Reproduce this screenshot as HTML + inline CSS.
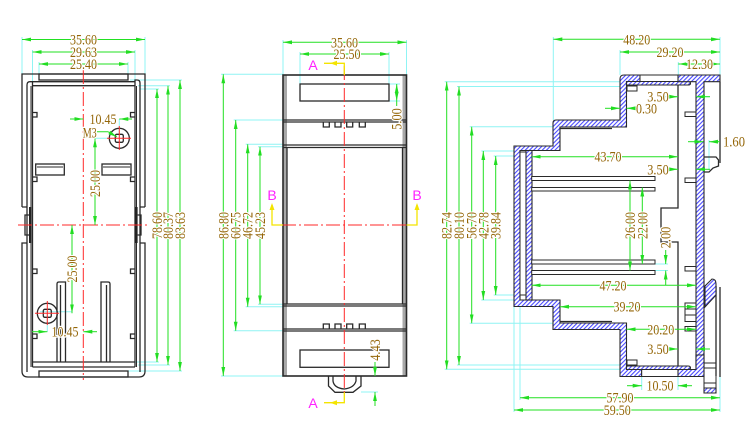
<!DOCTYPE html>
<html><head><meta charset="utf-8"><style>
html,body{margin:0;padding:0;background:#fff;}
svg{display:block;}
.o{stroke:#2a2a2a;stroke-width:1.3;fill:none;}
.ot{stroke:#2a2a2a;stroke-width:1;fill:none;}
.hf{fill:url(#h);stroke:#2a2a2a;stroke-width:1.1;}
.wf{fill:#fff;stroke:#2a2a2a;stroke-width:1;}
.e{stroke:#8ff4f4;stroke-width:1;fill:none;}
.d2{stroke:#22e022;stroke-width:1;fill:none;marker-start:url(#ar);marker-end:url(#ar);}
.d1{stroke:#22e022;stroke-width:1;fill:none;marker-end:url(#ar);}
.d0{stroke:#22e022;stroke-width:1;fill:none;}
.c{stroke:#ff2a2a;stroke-width:1;fill:none;stroke-dasharray:14 3 2 3;}
.y{stroke:#f4e400;stroke-width:1.3;fill:none;}
text{font-family:"Liberation Serif",serif;font-size:15px;fill:#946608;stroke:#fff;stroke-width:2.5;paint-order:stroke;text-anchor:middle;}
text.m{font-family:"Liberation Sans",sans-serif;font-size:14px;fill:#ff22ff;stroke:none;}
</style></head><body>
<svg width="750" height="429" viewBox="0 0 750 429" xmlns="http://www.w3.org/2000/svg">
<defs>
<marker id="ar" markerUnits="userSpaceOnUse" markerWidth="9" markerHeight="5" viewBox="0 0 9 5" refX="9" refY="2.5" orient="auto-start-reverse"><path d="M0,0.6 L9,2.5 L0,4.4Z" fill="#22dd22"/></marker>
<pattern id="h" width="3" height="3" patternUnits="userSpaceOnUse" patternTransform="rotate(45)"><rect width="3" height="3" fill="#fff"/><line x1="0.6" y1="0" x2="0.6" y2="3" stroke="#3636ff" stroke-width="1"/></pattern>
</defs>

<!-- ================= LEFT VIEW ================= -->
<g class="e">
<path d="M22,37V74M145,37V74M32.5,50V82M135,50V82M39,62V74M128,62V74"/>
<path d="M130,80H182M138,85.7H170M140,89H159M135,362H159M138,365H170M128,371H182"/>
<path d="M119.3,119V138M95,138.3H110M72,311.7H40M47.3,313V332M83.3,225H95"/>
</g>
<g class="o">
<path d="M22,207V74H145V207"/>
<path d="M22,207H27M145,207H140"/>
<path d="M27,243H22V371Q22,377 28,377H139Q145,377 145,371V243H140"/>
<path d="M27,372V85Q27,81.7 30,81.7H32.5V367"/>
<path d="M140,372V83Q140,80 137,80H135V367"/>
<path d="M31,86V367M136.5,86V367" class="ot"/>
<rect x="39" y="74" width="89" height="6"/>
<path d="M32.5,81.7H135M32.5,85.7H135"/>
<path d="M32.5,362H135M32.5,367H135"/>
<rect x="39" y="371" width="89" height="6"/>
<rect x="35.7" y="164" width="28.6" height="11"/>
<rect x="102" y="164" width="29" height="11"/>
<path d="M37,167H63M103,167H130" class="ot"/>
<path d="M32.5,112.5H37V117H32.5M135,112.5H130.5V117H135"/>
<path d="M32.5,177H37V181.5H32.5M135,177H130.5V181.5H135"/>
<path d="M32.5,269H37V273.5H32.5M135,269H130.5V273.5H135"/>
<path d="M32.5,334H37V338.5H32.5M135,334H130.5V338.5H135"/>
<path d="M57,362V284Q57,282 59,282H65.5V362M60.5,285V362"/>
<path d="M101,362V282H108Q110,282 110,284V362M106.5,285V362"/>
<circle cx="119.3" cy="138.3" r="10"/>
<rect x="115.3" y="134.3" width="8" height="8" rx="1.5"/>
<circle cx="47.3" cy="313.3" r="10"/>
<rect x="43.3" y="309.3" width="8" height="8" rx="1.5"/>
</g>
<rect x="29" y="207" width="2.6" height="36" fill="#222"/>
<rect x="135" y="207" width="2.6" height="36" fill="#222"/>
<path d="M29,215H25V235H29M137.6,215H141V235H137.6" class="o"/>
<g class="c">
<path d="M83.3,70V380"/>
<path d="M18,225H150"/>
</g>
<path d="M107,138.3H131M119.3,126V150M35,313.3H59M47.3,301V325" stroke="#ff2a2a" stroke-width="1"/>
<g>
<line class="d2" x1="22" y1="39.5" x2="145" y2="39.5"/>
<line class="d2" x1="32.5" y1="52" x2="135" y2="52"/>
<line class="d2" x1="39" y1="64" x2="128" y2="64"/>
<line class="d1" x1="70" y1="119" x2="83.3" y2="119"/>
<line class="d1" x1="132" y1="119" x2="119.3" y2="119"/>
<polyline class="d1" points="97,131.7 108,131.7 117,137"/>
<line class="d2" x1="95" y1="138.3" x2="95" y2="225"/>
<line class="d2" x1="72" y1="225" x2="72" y2="313.3"/>
<line class="d1" x1="32" y1="331.7" x2="47.3" y2="331.7"/>
<line class="d1" x1="97" y1="331.7" x2="83.3" y2="331.7"/>
<line class="d2" x1="157" y1="89" x2="157" y2="362"/>
<line class="d2" x1="168" y1="85.7" x2="168" y2="365"/>
<line class="d2" x1="180" y1="80" x2="180" y2="371"/>
</g>
<text x="83.5" y="44.5" textLength="27" lengthAdjust="spacingAndGlyphs">35.60</text>
<text x="83.5" y="57" textLength="27" lengthAdjust="spacingAndGlyphs">29.63</text>
<text x="83.5" y="69" textLength="27" lengthAdjust="spacingAndGlyphs">25.40</text>
<text x="103" y="124" textLength="27" lengthAdjust="spacingAndGlyphs">10.45</text>
<text x="89.7" y="137.5" textLength="14" lengthAdjust="spacingAndGlyphs">M3</text>
<text x="65" y="336.7" textLength="27" lengthAdjust="spacingAndGlyphs">10.45</text>
<text transform="translate(100,183.5) rotate(-90)" textLength="27" lengthAdjust="spacingAndGlyphs">25.00</text>
<text transform="translate(77,269) rotate(-90)" textLength="27" lengthAdjust="spacingAndGlyphs">25.00</text>
<text transform="translate(162,225.5) rotate(-90)" textLength="27" lengthAdjust="spacingAndGlyphs">78.60</text>
<text transform="translate(173,225.5) rotate(-90)" textLength="27" lengthAdjust="spacingAndGlyphs">80.37</text>
<text transform="translate(185,225.5) rotate(-90)" textLength="27" lengthAdjust="spacingAndGlyphs">83.63</text>

<!-- ================= MIDDLE VIEW ================= -->
<g class="e">
<path d="M283,40V75M406.5,40V75M300,52V84M389,52V84"/>
<path d="M221,74.3H283M233.7,120H283M245.7,144.3H283M258,146.7H287"/>
<path d="M221,376H283M233.7,330.7H283M245.7,306.7H283M258,304.3H287"/>
<path d="M389,84H400M389,101H400M361,392H378"/>
</g>
<rect x="283" y="75" width="4" height="301" fill="#a8a8a8"/>
<rect x="402.5" y="75" width="4" height="301" fill="#a8a8a8"/>
<g class="o">
<rect x="283" y="75" width="123.5" height="301" stroke-width="1.6"/>
<path d="M283,120H406.5M283,122H406.5M283,145H406.5M283,147.5H406.5"/>
<path d="M283,304H406.5M283,306H406.5M283,329H406.5M283,331H406.5"/>
<path d="M287,147.5V304M402.5,147.5V304"/>
<path d="M323.3,122V127H329.3V122M335,122V127H341V122M346.7,122V127H352.7V122M359.3,122V127H365.3V122"/>
<path d="M323.3,329V324H329.3V329M335,329V324H341V329M346.7,329V324H352.7V329M359.3,329V324H365.3V329"/>
<rect x="300" y="84" width="89" height="17"/>
<rect x="300" y="350" width="89" height="17.3"/>
<path d="M328.5,376V386L335,392.3H353L361,386V376"/>
<path d="M333,376V381Q334,388 344.3,389Q354,388 356,381V376"/>
</g>
<g class="c"><path d="M344.3,66V396"/><path d="M282,225H407"/></g>
<g class="y">
<path d="M324,63.3H344.3V75"/>
<path d="M324,402.7H344.3V392.3"/>
<path d="M272,205V225H283M417,205V225H406.5"/>
</g>
<path d="M330,63.3L337,60.8V65.8Z M330,402.7L337,400.2V405.2Z M272,203L269.5,210H274.5Z M417,203L414.5,210H419.5Z" fill="#f4e400"/>
<text class="m" x="313" y="70">A</text>
<text class="m" x="313" y="408">A</text>
<text class="m" x="272" y="200">B</text>
<text class="m" x="417" y="200">B</text>
<g>
<line class="d2" x1="283" y1="42.3" x2="406.5" y2="42.3"/>
<line class="d2" x1="300" y1="54" x2="389" y2="54"/>
<line class="d2" x1="223.3" y1="74.3" x2="223.3" y2="376"/>
<line class="d2" x1="235.7" y1="120" x2="235.7" y2="330.7"/>
<line class="d2" x1="247.7" y1="144.3" x2="247.7" y2="306.7"/>
<line class="d2" x1="260" y1="146.7" x2="260" y2="304.3"/>
<line class="d2" x1="396.7" y1="84" x2="396.7" y2="101"/>
<line class="d0" x1="396.7" y1="101" x2="396.7" y2="106"/>
<line class="d1" x1="375" y1="362" x2="375" y2="376"/>
<line class="d1" x1="375" y1="406" x2="375" y2="392"/>
</g>
<text x="344.5" y="47.3" textLength="27" lengthAdjust="spacingAndGlyphs">35.60</text>
<text x="347" y="59" textLength="27" lengthAdjust="spacingAndGlyphs">25.50</text>
<text transform="translate(228.3,225.5) rotate(-90)" textLength="27" lengthAdjust="spacingAndGlyphs">86.80</text>
<text transform="translate(240.7,225.5) rotate(-90)" textLength="27" lengthAdjust="spacingAndGlyphs">60.75</text>
<text transform="translate(252.7,225.5) rotate(-90)" textLength="27" lengthAdjust="spacingAndGlyphs">46.72</text>
<text transform="translate(265,225.5) rotate(-90)" textLength="27" lengthAdjust="spacingAndGlyphs">45.23</text>
<text transform="translate(401.7,119) rotate(-90)" textLength="21.5" lengthAdjust="spacingAndGlyphs">5.00</text>
<text transform="translate(380,350) rotate(-90)" textLength="21.5" lengthAdjust="spacingAndGlyphs">4.43</text>

<!-- ================= RIGHT VIEW ================= -->
<g class="e">
<path d="M553.3,37V120M620,50V75M678.3,62V75M720,37V75"/>
<path d="M444.7,81.7H620M457,86.5H622M469.7,126.7H553M481.3,151H515M493.7,156H515"/>
<path d="M444.7,369.3H620M457,365H620M469.7,323.3H555M481.3,300H514M493.7,295H514"/>
<path d="M514,306.5V412M520,300V400M720,376V412M641.7,376.5V390M678,376.5V390"/>
<path d="M655,264H668M655,270.5H668M709,140V170M696,96.7H710M678,96.7H665"/>
</g>
<!-- shell stepped profile -->
<path class="hf" d="M514,146V306.5H553V329.5H620V376.5H641.7V369.5H626.5V323H560V300H520V150.5H560V127H626.5V81.5H640V75H624Q620,75 620,79V120H556Q553,120 553,123V146Z"/>
<rect class="wf" x="520" y="152" width="6" height="143"/>
<rect class="hf" x="526" y="150.5" width="6" height="149.5"/>
<rect class="wf" x="640" y="75" width="38" height="6.5"/>
<path class="hf" d="M626.5,81.5H688Q690.5,81.5 690.5,83.2Q690.5,85 688,85H626.5Z"/>
<rect class="wf" x="641.7" y="369.5" width="36.3" height="7"/>
<path class="hf" d="M626.5,366H688Q690.5,366 690.5,367.8Q690.5,369.5 688,369.5H626.5Z"/>
<path class="hf" d="M678,75H720V81.7H704V366H696V81.7H678Z"/>
<path class="hf" d="M678,376.5V369.5H696V355H704V376.5Z"/>
<g class="o">
<path d="M720,81.7V163"/>
<path d="M704,157H716L718.5,160V166L713,168L709,172H704"/>
<path d="M678,85V208H661V242H678V366"/>
<path d="M560,128.5H612M560,321.5H612"/>
<rect x="627" y="86" width="10" height="5" class="ot"/>
<rect x="627" y="360" width="10" height="5" class="ot"/>
<rect x="531.7" y="176.5" width="123.3" height="4" class="wf"/>
<rect x="531.7" y="187.5" width="123.3" height="3.5" class="wf"/>
<rect x="531.7" y="260" width="123.3" height="4" class="wf"/>
<rect x="531.7" y="270.5" width="123.3" height="4" class="wf"/>
<path d="M696,112H685V116.5H696M696,178H685V182.5H696M696,266.5H685V271H696M696,326.5H685V331H696" class="ot"/>
<path d="M696,303H685V321.5H696M685,309H696M685,315H696" class="ot"/>
<path d="M716,286V376M720,287V377"/>
<path d="M704,363H716V393H704Z" class="ot"/>
<path d="M704,368H716M704,383H716M704,388H716" class="ot"/>
</g>
<path class="hf" d="M712,279Q716,279 716,284V295L705,307V286Z"/>
<path class="hf" d="M704,388H716V393H704Z"/>
<g>
<line class="d2" x1="553.3" y1="39.3" x2="720" y2="39.3"/>
<line class="d2" x1="620" y1="52" x2="720" y2="52"/>
<line class="d2" x1="678.3" y1="64" x2="720" y2="64"/>
<line class="d1" x1="668" y1="96.7" x2="678" y2="96.7"/>
<line class="d1" x1="710" y1="96.7" x2="696" y2="96.7"/>
<line class="d1" x1="605" y1="108.3" x2="620" y2="108.3"/>
<line class="d1" x1="635" y1="108.3" x2="626.5" y2="108.3"/>
<line class="d1" x1="688" y1="141.7" x2="703.5" y2="141.7"/>
<line class="d1" x1="720" y1="141.7" x2="709" y2="141.7"/>
<line class="d2" x1="531.7" y1="156.7" x2="678" y2="156.7"/>
<line class="d1" x1="668" y1="169.3" x2="678" y2="169.3"/>
<line class="d1" x1="710" y1="169.3" x2="696" y2="169.3"/>
<line class="d2" x1="630" y1="180.5" x2="630" y2="270.5"/>
<line class="d2" x1="642.3" y1="187.5" x2="642.3" y2="264"/>
<line class="d1" x1="665.7" y1="250" x2="665.7" y2="264"/>
<line class="d1" x1="665.7" y1="285" x2="665.7" y2="270.5"/>
<line class="d2" x1="531.7" y1="285.3" x2="696" y2="285.3"/>
<line class="d2" x1="560" y1="306.7" x2="696" y2="306.7"/>
<line class="d2" x1="626.5" y1="329.3" x2="696" y2="329.3"/>
<line class="d1" x1="668" y1="349" x2="678" y2="349"/>
<line class="d1" x1="710" y1="349" x2="696" y2="349"/>
<line class="d1" x1="627" y1="385.7" x2="641.7" y2="385.7"/>
<line class="d1" x1="692" y1="385.7" x2="678" y2="385.7"/>
<line class="d2" x1="520" y1="397.7" x2="720" y2="397.7"/>
<line class="d2" x1="514" y1="410" x2="720" y2="410"/>
<line class="d2" x1="446.7" y1="81.7" x2="446.7" y2="369.3"/>
<line class="d2" x1="459" y1="86.5" x2="459" y2="365"/>
<line class="d2" x1="471.7" y1="126.7" x2="471.7" y2="323.3"/>
<line class="d2" x1="483.3" y1="151" x2="483.3" y2="300"/>
<line class="d2" x1="495.7" y1="156" x2="495.7" y2="295"/>
</g>
<text x="636.7" y="44.3" textLength="27" lengthAdjust="spacingAndGlyphs">48.20</text>
<text x="670" y="57" textLength="27" lengthAdjust="spacingAndGlyphs">29.20</text>
<text x="699.5" y="69" textLength="27" lengthAdjust="spacingAndGlyphs">12.30</text>
<text x="658" y="101.7" textLength="21.5" lengthAdjust="spacingAndGlyphs">3.50</text>
<text x="646.5" y="113.3" textLength="21" lengthAdjust="spacingAndGlyphs">0.30</text>
<text x="734" y="146.7" textLength="22" lengthAdjust="spacingAndGlyphs">1.60</text>
<text x="608" y="161.7" textLength="27" lengthAdjust="spacingAndGlyphs">43.70</text>
<text x="658" y="174.3" textLength="21.5" lengthAdjust="spacingAndGlyphs">3.50</text>
<text x="613" y="290.3" textLength="27" lengthAdjust="spacingAndGlyphs">47.20</text>
<text x="627" y="311.7" textLength="27" lengthAdjust="spacingAndGlyphs">39.20</text>
<text x="660.7" y="334.3" textLength="27" lengthAdjust="spacingAndGlyphs">20.20</text>
<text x="658" y="354" textLength="21.5" lengthAdjust="spacingAndGlyphs">3.50</text>
<text x="660" y="390.7" textLength="27" lengthAdjust="spacingAndGlyphs">10.50</text>
<text x="620" y="402.7" textLength="27" lengthAdjust="spacingAndGlyphs">57.90</text>
<text x="617.3" y="415" textLength="27" lengthAdjust="spacingAndGlyphs">59.50</text>
<text transform="translate(451.7,225.5) rotate(-90)" textLength="27" lengthAdjust="spacingAndGlyphs">82.74</text>
<text transform="translate(464,225.5) rotate(-90)" textLength="27" lengthAdjust="spacingAndGlyphs">80.10</text>
<text transform="translate(476.7,225.5) rotate(-90)" textLength="27" lengthAdjust="spacingAndGlyphs">56.70</text>
<text transform="translate(488.3,225.5) rotate(-90)" textLength="27" lengthAdjust="spacingAndGlyphs">42.78</text>
<text transform="translate(500.7,225.5) rotate(-90)" textLength="27" lengthAdjust="spacingAndGlyphs">39.84</text>
<text transform="translate(635,225.5) rotate(-90)" textLength="27" lengthAdjust="spacingAndGlyphs">26.00</text>
<text transform="translate(647.3,225.5) rotate(-90)" textLength="27" lengthAdjust="spacingAndGlyphs">22.00</text>
<text transform="translate(670.7,237.5) rotate(-90)" textLength="21.5" lengthAdjust="spacingAndGlyphs">2.00</text>
</svg>
</body></html>
